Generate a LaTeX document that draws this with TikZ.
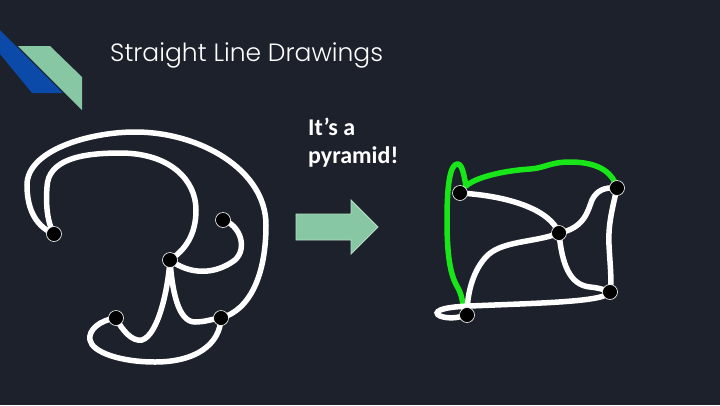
\documentclass[tikz,border=0pt]{standalone}
\usepackage{fontspec}
\newfontfamily\titlefont{Poppins}[UprightFont={* Light}]
\newfontfamily\notefont{Carlito}
\definecolor{slidebg}{RGB}{28,33,44}
\definecolor{logoblue}{RGB}{12,74,170}
\definecolor{logogreen}{RGB}{135,199,163}
\definecolor{penGreen}{RGB}{25,230,25}
\begin{document}
\begin{tikzpicture}[x=1pt,y=-1pt,
                edge/.style={white,line width=5.5pt,line cap=round},
                hl/.style={penGreen,line width=5.5pt,line cap=round,line join=round},
                vtx/.style={circle,fill=black,draw=white,line width=0.6pt,minimum size=15pt,inner sep=0pt}]
                \fill[slidebg] (0,0) rectangle (720,405);
                \useasboundingbox (0,0) rectangle (720,405);
                % logo
                \fill[logoblue] (0,30) -- (63,93) -- (32,93) -- (0,54) -- cycle;
                \fill[logogreen] (18,46) -- (50,46) -- (82,77) -- (82,110) -- cycle;
                \node[anchor=base west,inner sep=0pt,text=white,font=\titlefont\fontsize{25}{28}\selectfont] (title) at (110,61) {Straight Line Drawings};
                % left drawing
                \coordinate (v1) at (54,234);
                \coordinate (v2) at (223,220);
                \coordinate (v3) at (170,260);
                \coordinate (v4) at (116,318);
                \coordinate (v5) at (221,318);
                \draw[edge] (v1) .. controls (33,225) and (27,205) .. (27,185)
                    .. controls (27,150) and (90,132) .. (135,132)
                    .. controls (200,132) and (266,170) .. (266,225)
                    .. controls (266,275) and (250,310) .. (v5);
                \draw[edge] (v1) .. controls (46,220) and (46,200) .. (47,187)
                    .. controls (48,160) and (80,153) .. (120,153)
                    .. controls (170,153) and (196,180) .. (196,210)
                    .. controls (196,235) and (185,250) .. (v3);
                \draw[edge] (v3) .. controls (190,275) and (215,275) .. (235,260)
                    .. controls (248,248) and (240,225) .. (v2);
                \draw[edge] (v3) .. controls (168,290) and (158,335) .. (142,340)
                    .. controls (132,342) and (122,330) .. (v4);
                \draw[edge] (v3) .. controls (172,290) and (178,322) .. (195,322)
                    .. controls (205,322) and (212,319) .. (v5);
                \draw[edge] (v4) .. controls (100,320) and (88,330) .. (90,340)
                    .. controls (92,352) and (120,362) .. (155,362)
                    .. controls (195,362) and (220,345) .. (v5);
                \foreach \v in {1,...,5} \node[vtx] (a\v) at (v\v) {};
                % arrow
                \draw[fill=logogreen,draw=logogreen!60!white,line width=0.8pt] (296,214) -- (351,214) -- (351,200) -- (378,227) -- (351,254) -- (351,240) -- (296,240) -- cycle;
                \node[anchor=base west,inner sep=0pt,text=white,font=\notefont\bfseries\fontsize{24}{28}\selectfont] (note1) at (308,135) {It’s a};
                \node[anchor=base west,inner sep=0pt,text=white,font=\notefont\bfseries\fontsize{24}{28}\selectfont] (note2) at (308,163) {pyramid!};
                % right drawing
                \coordinate (w1) at (460,193);
                \coordinate (w2) at (617,188);
                \coordinate (w3) at (559,233);
                \coordinate (w4) at (610,292);
                \coordinate (w5) at (467,315);
                \draw[hl] (w2) .. controls (612,170) and (595,162) .. (570,162)
                    .. controls (550,162) and (545,168) .. (530,169)
                    .. controls (500,171) and (475,178) .. (466,186)
                    .. controls (464,175) and (462,163) .. (457,164)
                    .. controls (450,165) and (447,185) .. (447,220)
                    .. controls (447,255) and (450,275) .. (458,288)
                    .. controls (462,295) and (463,305) .. (464,310);
                \draw[edge] (w1) .. controls (510,196) and (550,210) .. (w3);
                \draw[edge] (w3) .. controls (585,228) and (588,210) .. (592,200)
                    .. controls (597,190) and (605,187) .. (w2);
                \draw[edge] (w3) .. controls (562,265) and (570,285) .. (590,287)
                    .. controls (600,288) and (605,290) .. (w4);
                \draw[edge] (w2) .. controls (612,210) and (608,225) .. (609,245)
                    .. controls (610,265) and (612,280) .. (w4);
                \draw[edge] (w3) .. controls (535,243) and (500,240) .. (485,258)
                    .. controls (472,273) and (467,295) .. (w5);
                \draw[edge] (w4) .. controls (605,302) and (540,303) .. (470,306)
                    .. controls (440,307) and (432,312) .. (440,316)
                    .. controls (448,319) and (458,318) .. (w5);
                \foreach \w in {1,...,5} \node[vtx] (b\w) at (w\w) {};
\end{tikzpicture}
\end{document}
